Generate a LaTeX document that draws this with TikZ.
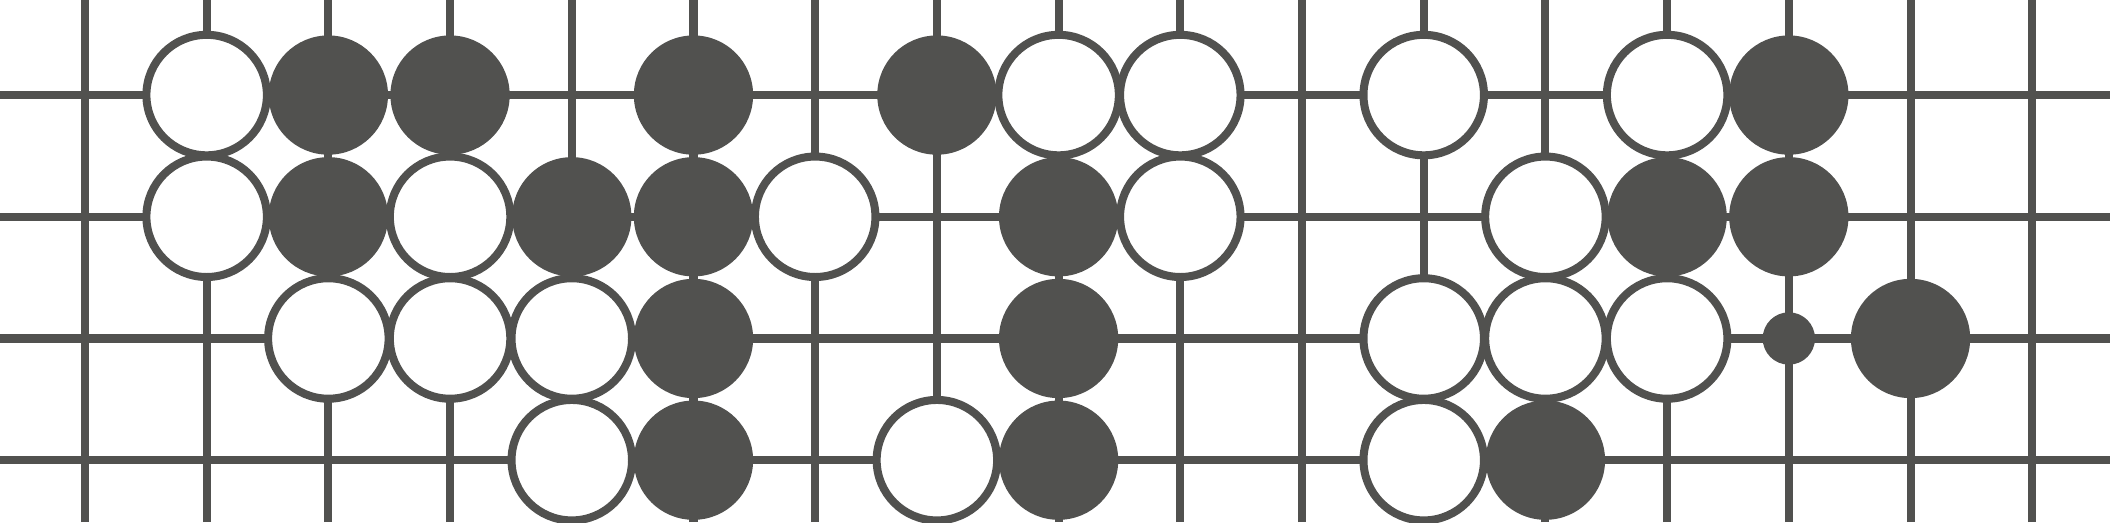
\documentclass[tikz,border=0pt]{standalone}
\usepackage{xcolor}
\usepackage{tikz}
\definecolor{stonegray}{HTML}{51514F}

\begin{document}
\begin{tikzpicture}[scale=1.0,
  whitestone/.style={circle,draw=stonegray,fill=white,line width=0.66mm,minimum size=9.9mm,inner sep=0pt},
  blackstone/.style={circle,fill=stonegray,minimum size=9.8mm,inner sep=0pt},
  markdot/.style={circle,fill=stonegray,minimum size=4.3mm,inner sep=0pt}]
\useasboundingbox (-0.698,-3.509) rectangle (16.639,0.781);
\draw[stonegray,line width=0.66mm,step=1] (-0.698,-3.509) grid (16.639,0.781);
% white stones
\node[whitestone] (w1-0) at (1,0) {};
\node[whitestone] (w8-0) at (8,0) {};
\node[whitestone] (w9-0) at (9,0) {};
\node[whitestone] (w11-0) at (11,0) {};
\node[whitestone] (w13-0) at (13,0) {};
\node[whitestone] (w1-1) at (1,-1) {};
\node[whitestone] (w3-1) at (3,-1) {};
\node[whitestone] (w6-1) at (6,-1) {};
\node[whitestone] (w9-1) at (9,-1) {};
\node[whitestone] (w12-1) at (12,-1) {};
\node[whitestone] (w2-2) at (2,-2) {};
\node[whitestone] (w3-2) at (3,-2) {};
\node[whitestone] (w4-2) at (4,-2) {};
\node[whitestone] (w11-2) at (11,-2) {};
\node[whitestone] (w12-2) at (12,-2) {};
\node[whitestone] (w13-2) at (13,-2) {};
\node[whitestone] (w4-3) at (4,-3) {};
\node[whitestone] (w7-3) at (7,-3) {};
\node[whitestone] (w11-3) at (11,-3) {};
% black stones
\node[blackstone] (b2-0) at (2,0) {};
\node[blackstone] (b3-0) at (3,0) {};
\node[blackstone] (b5-0) at (5,0) {};
\node[blackstone] (b7-0) at (7,0) {};
\node[blackstone] (b14-0) at (14,0) {};
\node[blackstone] (b2-1) at (2,-1) {};
\node[blackstone] (b4-1) at (4,-1) {};
\node[blackstone] (b5-1) at (5,-1) {};
\node[blackstone] (b8-1) at (8,-1) {};
\node[blackstone] (b13-1) at (13,-1) {};
\node[blackstone] (b14-1) at (14,-1) {};
\node[blackstone] (b5-2) at (5,-2) {};
\node[blackstone] (b8-2) at (8,-2) {};
\node[blackstone] (b15-2) at (15,-2) {};
\node[blackstone] (b5-3) at (5,-3) {};
\node[blackstone] (b8-3) at (8,-3) {};
\node[blackstone] (b12-3) at (12,-3) {};
\node[markdot] (m14-2) at (14,-2) {};
\end{tikzpicture}
\end{document}
